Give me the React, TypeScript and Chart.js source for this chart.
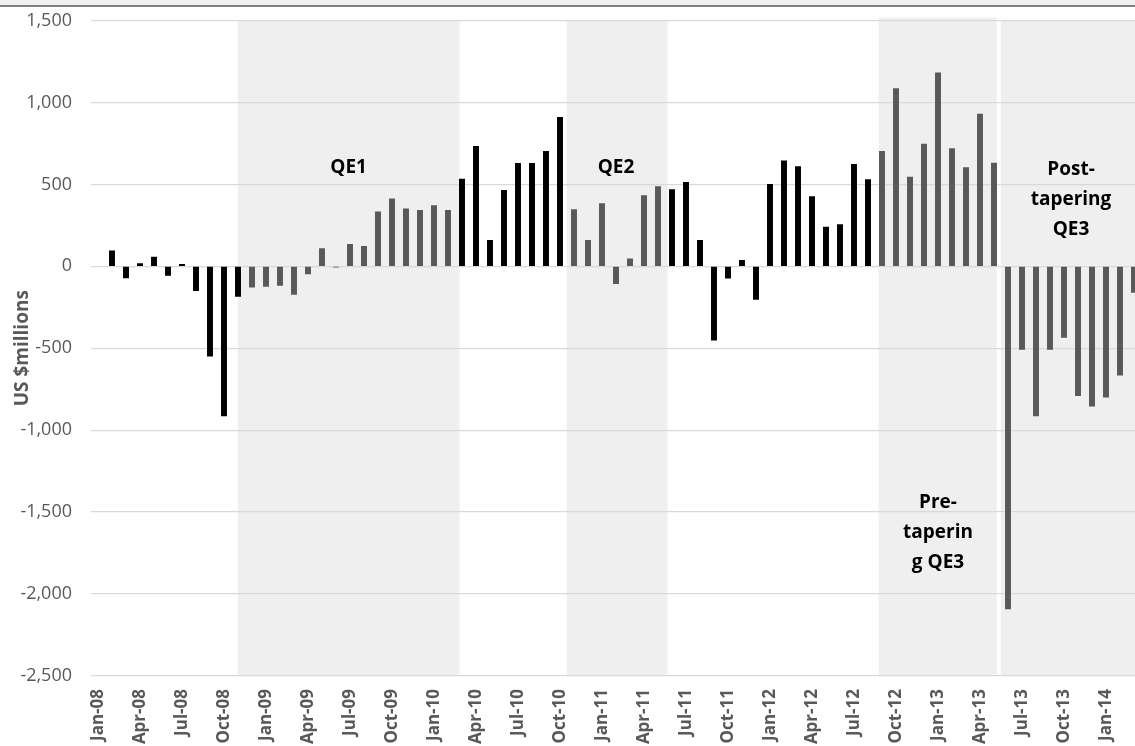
import React, { useEffect, useRef } from "react";
import { Chart, registerables } from "chart.js";

Chart.register(...registerables);

const categories: string[] = [
  "Jan-08", "Feb-08", "Mar-08", "Apr-08", "May-08", "Jun-08", "Jul-08", "Aug-08", "Sep-08", "Oct-08", "Nov-08", "Dec-08",
  "Jan-09", "Feb-09", "Mar-09", "Apr-09", "May-09", "Jun-09", "Jul-09", "Aug-09", "Sep-09", "Oct-09", "Nov-09", "Dec-09",
  "Jan-10", "Feb-10", "Mar-10", "Apr-10", "May-10", "Jun-10", "Jul-10", "Aug-10", "Sep-10", "Oct-10", "Nov-10", "Dec-10",
  "Jan-11", "Feb-11", "Mar-11", "Apr-11", "May-11", "Jun-11", "Jul-11", "Aug-11", "Sep-11", "Oct-11", "Nov-11", "Dec-11",
  "Jan-12", "Feb-12", "Mar-12", "Apr-12", "May-12", "Jun-12", "Jul-12", "Aug-12", "Sep-12", "Oct-12", "Nov-12", "Dec-12",
  "Jan-13", "Feb-13", "Mar-13", "Apr-13", "May-13", "Jun-13", "Jul-13", "Aug-13", "Sep-13", "Oct-13", "Nov-13", "Dec-13",
  "Jan-14", "Feb-14", "Mar-14",
];

// Monthly flows, US $ millions
const flows: (number | null)[] = [
  null, 94, -71, 16, 57, -55, 12, -149, -548, -913, -183,
  -128, -122, -116, -171, -47, 108, -5, 134, 122, 332,
  412, 351, 342, 371, 342, 532, 732, 159, 463, 628,
  628, 701, 909, 346, 159, 383, -106, 45, 432, 487,
  469, 512, 159, -450, -73, 37, -202, 501, 644, 609,
  426, 240, 255, 622, 530, 701, 1084, 544, 746, 1180,
  719, 603, 929, 630, -2090, -507, -913, -507, -434, -789,
  -854, -799, -664, -159,
];

// Periods whose bars are drawn in grey (QE periods)
const greyPeriods: [string, string][] = [
  ["Dec-08", "Feb-10"],
  ["Nov-10", "May-11"],
  ["Sep-12", "Mar-14"],
];

const yTicks = [-2500, -2000, -1500, -1000, -500, 0, 500, 1000, 1500];

// Shaded QE periods (in category units)
const bands = [
  { name: "QE1", start: 9.98, end: 25.83, raise: 0 },
  { name: "QE2", start: 33.48, end: 40.69, raise: 0 },
  { name: "Pre-tapering QE3", start: 55.76, end: 64.19, raise: 3 },
  { name: "Post-tapering QE3", start: 64.48, end: 80, raise: 0 },
];

const notes = [
  { lines: ["QE1"], x: 17.9, y: 605 },
  { lines: ["QE2"], x: 37.0, y: 605 },
  { lines: ["Post-", "tapering", "QE3"], x: 69.5, y: 410 },
  { lines: ["Pre-", "taperin", "g QE3"], x: 60.0, y: -1626 },
];

const BLACK = "#000000";
const GREY = "#595959";
const TEXT = "#595959";
const FONT = "'Open Sans', 'Noto Sans', sans-serif";

function isGrey(i: number): boolean {
  return greyPeriods.some(([a, b]) => {
    const ia = categories.indexOf(a);
    const ib = categories.indexOf(b);
    return i >= ia && i <= ib;
  });
}

const bandPlugin = {
  id: "bands",
  beforeDraw(chart: any) {
    const { ctx, chartArea, scales } = chart;
    const x = scales.x;
    const y = scales.y;
    ctx.save();
    ctx.fillStyle = "#efefef";
    for (const b of bands) {
      const x0 = x.getPixelForValue(b.start);
      const x1 = Math.min(x.getPixelForValue(b.end), chart.width);
      const top = y.getPixelForValue(1500) - b.raise;
      ctx.fillRect(x0, top, x1 - x0, chartArea.bottom - top);
    }
    ctx.restore();
  },
};

const notePlugin = {
  id: "notes",
  afterDatasetsDraw(chart: any) {
    const { ctx, scales } = chart;
    ctx.save();
    ctx.fillStyle = "#000000";
    ctx.font = `bold 19px ${FONT}`;
    ctx.textAlign = "center";
    ctx.textBaseline = "middle";
    const lh = 30;
    for (const n of notes) {
      const cx = scales.x.getPixelForValue(n.x);
      const cy = scales.y.getPixelForValue(n.y);
      const startY = cy - ((n.lines.length - 1) * lh) / 2;
      n.lines.forEach((t, k) => ctx.fillText(t, cx, startY + k * lh));
    }
    ctx.restore();
  },
};

export default function App() {
  const ref = useRef<HTMLCanvasElement | null>(null);

  useEffect(() => {
    if (!ref.current) return;
    const colors = flows.map((_, i) => (isGrey(i) ? GREY : BLACK));
    const chart = new Chart(ref.current, {
      type: "bar",
      data: {
        labels: categories,
        datasets: [
          {
            data: flows,
            backgroundColor: colors,
            borderWidth: 0,
            barThickness: 5.3,
          },
        ],
      },
      plugins: [bandPlugin, notePlugin],
      options: {
        animation: false,
        responsive: false,
        maintainAspectRatio: false,
        layout: { padding: { top: 20.5, left: 0, right: 0, bottom: 0 } },
        plugins: {
          legend: { display: false },
          tooltip: { enabled: false },
        },
        scales: {
          x: {
            grid: { display: false, drawTicks: false },
            border: { display: false },
            afterFit: (s: any) => {
              s.height = 70;
              s.paddingLeft = 0;
              s.paddingRight = 0;
            },
            ticks: {
              autoSkip: false,
              minRotation: 90,
              maxRotation: 90,
              padding: 13,
              color: TEXT,
              font: { family: FONT, size: 17, weight: "bold" },
              callback: (_v: any, i: number) => (i % 3 === 0 ? categories[i] : ""),
            },
          },
          y: {
            min: -2500,
            max: 1500,
            afterFit: (s: any) => {
              s.width = 91;
              s.paddingTop = 0;
              s.paddingBottom = 0;
            },
            afterBuildTicks: (s: any) => {
              s.ticks = yTicks.map((v) => ({ value: v }));
            },
            grid: { color: "#d9d9d9", lineWidth: 1.3, drawTicks: false },
            border: { display: false },
            ticks: {
              padding: 19,
              color: TEXT,
              font: { family: FONT, size: 18 },
              callback: (v: any) => Number(v).toLocaleString("en-US"),
            },
            title: {
              display: true,
              text: "US $millions",
              color: TEXT,
              font: { family: FONT, size: 19, weight: "bold" },
              padding: { top: 11, bottom: 0 },
            },
          },
        },
      },
    });
    return () => chart.destroy();
  }, []);

  return (
    <div
      style={{
        position: "fixed",
        left: 0,
        top: 0,
        width: 1135,
        height: 746,
        overflow: "hidden",
        background: "#ffffff",
      }}
    >
      <canvas
        ref={ref}
        width={1141}
        height={746}
        style={{ position: "absolute", left: 0, top: 0, width: 1141, height: 746 }}
      />
      <div
        style={{
          position: "absolute",
          left: 0,
          top: 0,
          width: 1135,
          height: 5,
          background: "#f0f0f0",
          borderBottom: "2px solid #7f7f7f",
        }}
      />
    </div>
  );
}
